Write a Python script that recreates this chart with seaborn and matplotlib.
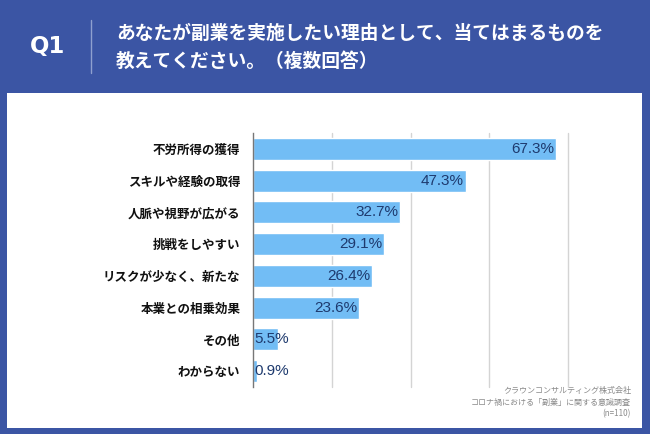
import matplotlib
matplotlib.use('Agg')
from matplotlib import pyplot as plt
from matplotlib.patches import Rectangle
import pandas as pd
import seaborn as sns

sns.set_theme(style='white')
plt.rcParams['font.family'] = ['Noto Sans CJK JP', 'DejaVu Sans']

# データ
labels = ['不労所得の獲得', 'スキルや経験の取得', '人脈や視野が広がる', '挑戦をしやすい',
          'リスクが少なく、新たな', '本業との相乗効果', 'その他', 'わからない']
values = [67.3, 47.3, 32.7, 29.1, 26.4, 23.6, 5.5, 0.9]
grid_ticks = [0, 17.5, 35, 52.5, 70]
title_lines = ['あなたが副業を実施したい理由として、当てはまるものを', '教えてください。（複数回答）']
footer_lines = ['クラウンコンサルティング株式会社', 'コロナ禍における「副業」に関する意識調査', '(n=110)']

df = pd.DataFrame({'理由': labels, '割合': values})

W, H = 650, 434
BLUE = '#3b55a4'
fig = plt.figure(figsize=(W / 100, H / 100), dpi=100)
fig.patch.set_facecolor(BLUE)


def px(x, y):
    return x / W, 1 - y / H


# 白いパネル
fig.patches.append(Rectangle(px(7, 428), 635 / W, 335 / H, transform=fig.transFigure,
                             facecolor='white', edgecolor='none', zorder=-10))

# ヘッダー
fig.text(*px(48, 47), 'Q1', color='white', fontsize=16.5, fontweight='bold', ha='center', va='center',
         family=['DejaVu Sans'])
fig.add_artist(plt.Line2D([91 / W, 91 / W], [1 - 20 / H, 1 - 73 / H], color='#8fa0cf', lw=1))
fig.text(*px(116, 33), title_lines[0], color='white', fontsize=13.5, fontweight='bold', va='center')
fig.text(*px(116, 61), title_lines[1], color='white', fontsize=13.5, fontweight='bold', va='center')

# グラフ本体
ax = fig.add_axes([253 / W, 1 - 387 / H, (568 - 253) / W, (387 - 133) / H])
ax.set_zorder(5)
ax.set_facecolor('none')
sns.barplot(data=df, x='割合', y='理由', color='#72bdf5', saturation=1, width=0.7, ax=ax, zorder=2)
ax.set_xlim(0, 70)
ax.set_ylim(7.5, -0.5)
for g in grid_ticks[1:]:
    ax.axvline(g, color='#d4d4d4', lw=1, zorder=1, clip_on=False)
ax.set_xticks([])
ax.set_xlabel('')
ax.set_ylabel('')
for s in ['top', 'right', 'bottom']:
    ax.spines[s].set_visible(False)
ax.spines['left'].set_color('#777777')
ax.spines['left'].set_linewidth(1)
ax.tick_params(axis='y', length=0, pad=9)
for t in ax.get_yticklabels():
    t.set_fontsize(9)
    t.set_fontweight('bold')
    t.set_color('#111111')

# 数値ラベル
for i, v in enumerate(values):
    if v > 15:
        ax.text(v - 0.4, i, f'{v}%', ha='right', va='center', fontsize=11,
                color='#1e3a6e', family=['Liberation Sans'], zorder=3)
    else:
        ax.text(0.3, i, f'{v}%', ha='left', va='center', fontsize=11,
                color='#1e3a6e', family=['Liberation Sans'], zorder=3)

# 出典
for k, line in enumerate(footer_lines):
    fig.text(*px(631, 390 + 12 * k), line, color='#8a8a8a', fontsize=5.8, ha='right', va='center')

fig.savefig('out.png', dpi=100, facecolor=BLUE)
